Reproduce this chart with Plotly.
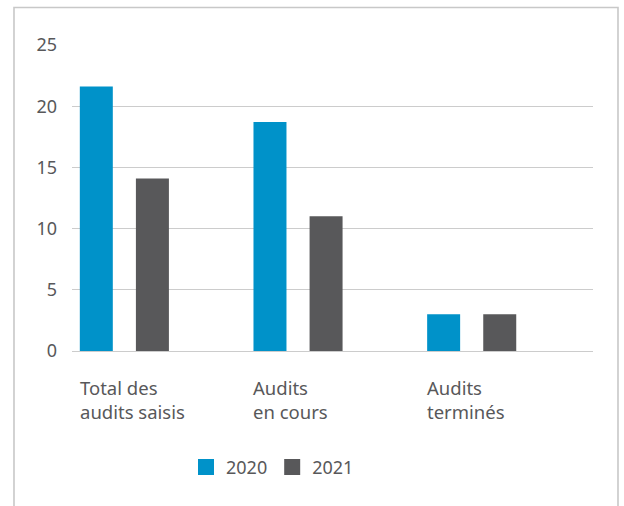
import plotly.graph_objects as go

categories = ["Total des audits saisis", "Audits en cours", "Audits terminés"]
category_labels = ["Total des<br>audits saisis", "Audits<br>en cours", "Audits<br>terminés"]
series_names = ["2020", "2021"]
values_2020 = [21.6, 18.7, 3.0]
values_2021 = [14.1, 11.0, 3.0]
y_ticks = [0, 5, 10, 15, 20, 25]

BLUE = "#0092C9"
GRAY = "#58585A"
TEXT = "#58585A"
GRID = "#CCCCCC"
FONT = "Noto Sans"

W, H = 624, 506
ML, MT = 72, 44.5
MR = W - 593
MB = H - 351
PW = W - ML - MR
PH = H - MT - MB

bar_w = 0.19
off_2020 = -0.455
off_2021 = -0.132


def px_x(p):
    return (p - ML) / PW


def px_y(p):
    return (H - MB - p) / PH


fig = go.Figure()
fig.add_trace(go.Bar(x=categories, y=values_2020, name=series_names[0],
                     marker=dict(color=BLUE, line=dict(width=0)),
                     width=bar_w, offset=off_2020, showlegend=False,
                     hoverinfo="skip"))
fig.add_trace(go.Bar(x=categories, y=values_2021, name=series_names[1],
                     marker=dict(color=GRAY, line=dict(width=0)),
                     width=bar_w, offset=off_2021, showlegend=False,
                     hoverinfo="skip"))
for name, col in zip(series_names, [BLUE, GRAY]):
    fig.add_trace(go.Scatter(x=[None], y=[None], mode="markers", name=name,
                             marker=dict(symbol="square", size=16, color=col),
                             showlegend=True))

for i, lab in enumerate(category_labels):
    fig.add_annotation(x=i + off_2020, y=px_y(373), xref="x", yref="paper",
                       text=lab, showarrow=False, xanchor="left", yanchor="top",
                       align="left", xshift=-2,
                       font=dict(family=FONT, size=18.5, color=TEXT))

fig.add_shape(type="rect", xref="paper", yref="paper",
              x0=px_x(14), x1=px_x(618), y0=px_y(530), y1=px_y(7),
              line=dict(color="#C8C8C8", width=1.6), fillcolor="rgba(0,0,0,0)",
              layer="below")

fig.update_layout(
    width=W, height=H, autosize=False,
    margin=dict(l=ML, r=MR, t=MT, b=MB, pad=0),
    paper_bgcolor="white", plot_bgcolor="white",
    barmode="overlay",
    font=dict(family=FONT, size=18, color=TEXT),
    showlegend=True,
    legend=dict(orientation="h", x=px_x(186), xanchor="left",
                y=px_y(449), yanchor="top",
                font=dict(family=FONT, size=18, color=TEXT),
                bgcolor="rgba(0,0,0,0)", itemclick=False),
    xaxis=dict(type="category", range=[-0.5, 2.5], showticklabels=False,
               showgrid=False, zeroline=False, showline=False, ticks=""),
    yaxis=dict(range=[0, 25], tickvals=y_ticks, showgrid=True, gridcolor=GRID,
               gridwidth=1.3, zeroline=True, zerolinecolor=GRID, zerolinewidth=1.3,
               showline=False, ticks="", ticklabelstandoff=14,
               tickfont=dict(family=FONT, size=18, color=TEXT)),
)

fig.write_html("out.html", config={"displayModeBar": False},
               post_script="document.body.style.margin='0';document.body.style.overflow='hidden';")
